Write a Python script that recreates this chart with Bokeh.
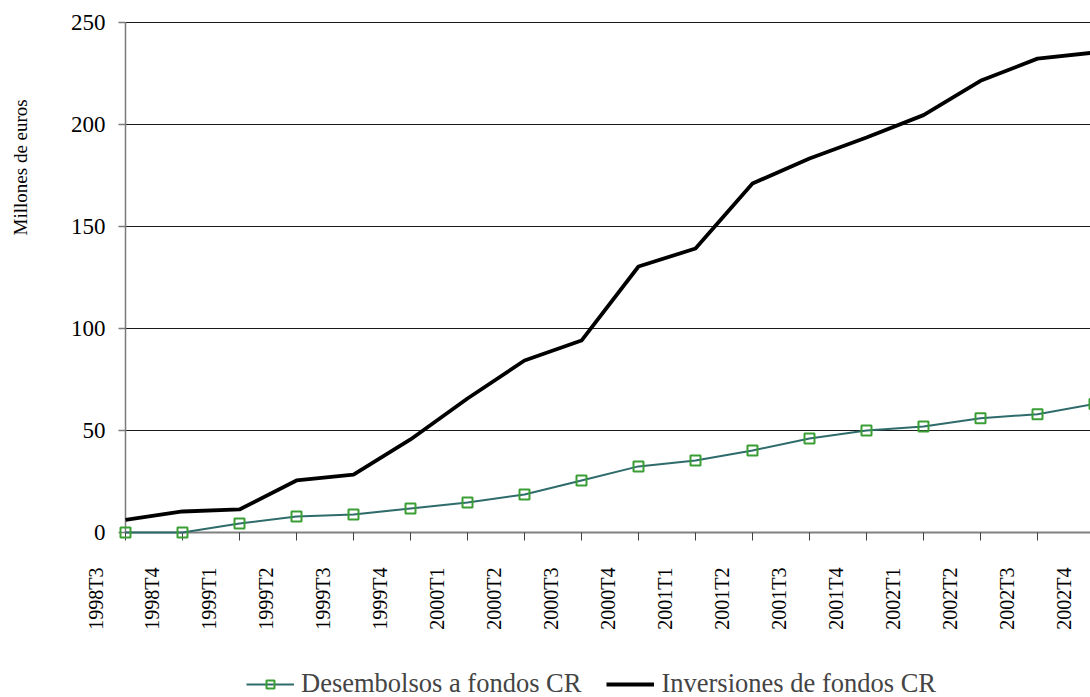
import math
from bokeh.plotting import figure
from bokeh.models import Range1d, Legend, LegendItem
from bokeh.core.properties import value
from bokeh.embed import file_html
from bokeh.resources import INLINE

# ---- data -------------------------------------------------------------
quarters = ["1998T3", "1998T4", "1999T1", "1999T2", "1999T3", "1999T4",
            "2000T1", "2000T2", "2000T3", "2000T4", "2001T1", "2001T2",
            "2001T3", "2001T4", "2002T1", "2002T2", "2002T3", "2002T4"]
desembolsos = [0.0, 0.0, 4.4, 7.8, 8.8, 11.8, 14.7, 18.6, 25.5, 32.4, 35.3,
               40.2, 46.1, 50.0, 52.0, 56.0, 58.0, 63.0]
inversiones = [6.2, 10.3, 11.3, 25.5, 28.4, 45.6, 65.7, 84.3, 94.1, 130.4,
               139.2, 171.1, 183.3, 193.6, 204.6, 221.4, 232.3, 235.3]
y_ticks = [0, 50, 100, 150, 200, 250]
y_tick_labels = ["0", "50", "100", "150", "200", "250"]
y_title = "Millones de euros"
name_des = "Desembolsos a fondos CR"
name_inv = "Inversiones de fondos CR"

# ---- layout (pixels) --------------------------------------------------
W, H = 1090, 697
AX_X, AX_TOP, AX_BOTTOM = 125, 22, 532     # pixel position of the plot area
X_SPAN_VIS = 16.93                         # categories visible in the plot area
FONT = "Liberation Serif"

idx = list(range(len(quarters)))
px_per_x = (W - AX_X) / X_SPAN_VIS
y_top_val = y_ticks[-1]
px_per_y = (AX_BOTTOM - AX_TOP) / y_top_val
x_start = -AX_X / px_per_x
y_end = y_top_val + AX_TOP / px_per_y
y_start = -(H - AX_BOTTOM) / px_per_y

p = figure(width=W, height=H, output_backend="svg", toolbar_location=None,
           x_range=Range1d(x_start, X_SPAN_VIS), y_range=Range1d(y_start, y_end),
           x_axis_type=None, y_axis_type=None,
           min_border=0, min_border_left=0, min_border_right=0,
           min_border_top=0, min_border_bottom=0)
p.outline_line_color = None
p.background_fill_color = "white"
p.border_fill_color = "white"

# gridlines (start at the value axis)
p.segment(x0=[0] * (len(y_ticks) - 1), x1=[idx[-1]] * (len(y_ticks) - 1),
          y0=y_ticks[1:], y1=y_ticks[1:], line_color="#1a1a1a", line_width=1)

# value axis
p.segment(x0=[0], x1=[0], y0=[y_ticks[0]], y1=[y_ticks[-1]],
          line_color="#7a7a7a", line_width=1.5)
p.ray(x=[0] * len(y_ticks), y=y_ticks, length=7, length_units="screen",
      angle=math.pi, line_color="#7a7a7a", line_width=1.5)
p.text(x=[0] * len(y_ticks), y=y_ticks, text=y_tick_labels, x_offset=-20,
       text_align="right", text_baseline="middle", text_font=value(FONT),
       text_font_size="23px", text_color="black")
p.text(x=[0], y=[y_top_val * 0.716], text=[y_title], x_offset=-105,
       angle=math.pi / 2, text_align="center", text_baseline="middle",
       text_font=value(FONT), text_font_size="19px", text_color="black")

# category axis
p.segment(x0=[0], x1=[idx[-1]], y0=[0], y1=[0], line_color="#808080", line_width=2)
p.ray(x=idx, y=[0] * len(idx), length=8, length_units="screen",
      angle=-math.pi / 2, line_color="#404040", line_width=1)
p.text(x=idx, y=[0] * len(idx), text=quarters, angle=math.pi / 2,
       x_offset=-30, y_offset=35, text_align="right", text_baseline="middle",
       text_font=value(FONT), text_font_size="20px", text_color="black")

# series
r_des_line = p.line(idx, desembolsos, line_color="#2f6b6b", line_width=2)
r_des_mark = p.scatter(idx, desembolsos, marker="square", size=10,
                       line_color="#3a9e35", line_width=2, fill_color=None)
r_inv = p.line(idx, inversiones, line_color="black", line_width=3.8)

legend = Legend(items=[LegendItem(label=name_des, renderers=[r_des_line, r_des_mark]),
                       LegendItem(label=name_inv, renderers=[r_inv])],
                orientation="horizontal", location=(246, -2),
                label_text_font=FONT, label_text_font_size="26.5px",
                glyph_width=48, glyph_height=20, label_standoff=7, spacing=25,
                padding=0, margin=0, background_fill_alpha=0,
                border_line_color=None)
p.add_layout(legend)

open("out.html", "w").write(file_html(p, INLINE))
